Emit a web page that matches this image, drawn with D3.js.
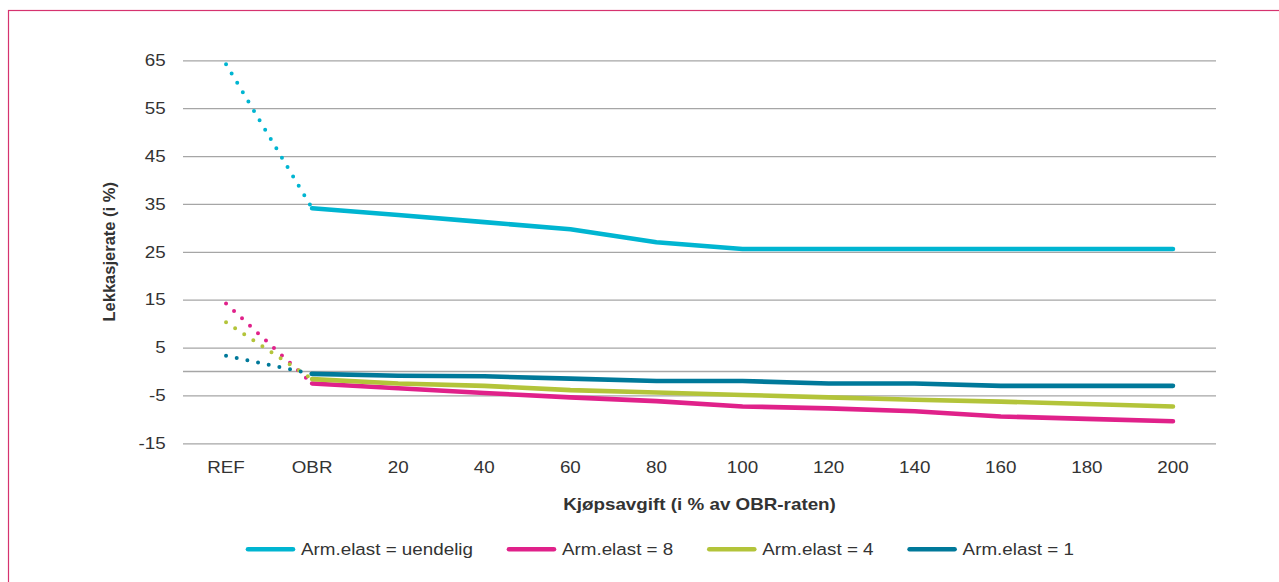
<!DOCTYPE html>
<html>
<head>
<meta charset="utf-8">
<script src="https://cdn.jsdelivr.net/npm/d3@7"></script>
<style>
  html, body { margin: 0; padding: 0; background: #fff; }
  svg { display: block; font-family: "Liberation Sans", Arial, sans-serif; }
</style>
</head>
<body>
<svg id="chart" width="1279" height="582"></svg>
<script>
// ---- data ----
const categories = ["REF", "OBR", "20", "40", "60", "80", "100", "120", "140", "160", "180", "200"];
const seriesNames = ["Arm.elast = uendelig", "Arm.elast = 8", "Arm.elast = 4", "Arm.elast = 1"];
const uendelig = [64.2, 34.1, 32.7, 31.2, 29.7, 27.0, 25.6, 25.6, 25.6, 25.6, 25.6, 25.6];
const elast8   = [14.2, -2.5, -3.5, -4.5, -5.4, -6.2, -7.3, -7.7, -8.3, -9.4, -9.9, -10.4];
const elast4   = [10.3, -1.6, -2.5, -3.0, -3.9, -4.4, -4.9, -5.4, -5.9, -6.3, -6.8, -7.3];
const elast1   = [3.3, -0.5, -0.9, -1.0, -1.5, -2.0, -2.0, -2.5, -2.5, -3.0, -3.0, -3.0];
const yTicks = [-15, -5, 5, 15, 25, 35, 45, 55, 65];
const yDomain = [-15, 65];
const xTitle = "Kjøpsavgift (i % av OBR-raten)";
const yTitle = "Lekkasjerate (i %)";

const colors = ["#00b5d1", "#e0218a", "#b3c43a", "#00799a"];
const seriesValues = [uendelig, elast8, elast4, elast1];

(function draw() {
// ---- layout ----
const svg = d3.select("#chart");
const pLeft = 183, pRight = 1216, pTop = 60.3, pBottom = 443.3;
const SX = 1.14;      // horizontal glyph stretch of the original picture
const FS = 16.5;
const textColor = "#333";

// outer frame
svg.append("rect")
  .attr("x", 8.5).attr("y", 10.5).attr("width", 1400).attr("height", 700)
  .attr("fill", "none").attr("stroke", "#d6336f").attr("stroke-width", 1.2);

const x = d3.scaleBand().domain(categories).range([pLeft, pRight]).padding(0);
const y = d3.scaleLinear().domain(yDomain).range([pBottom, pTop]);
const cx = c => x(c) + x.bandwidth() / 2;

// y axis with gridlines
const yAxis = svg.append("g")
  .attr("transform", `translate(${pLeft},0)`)
  .call(d3.axisLeft(y).tickValues(yTicks).tickFormat(d => String(d))
    .tickSize(-(pRight - pLeft)).tickPadding(15.2));
yAxis.select(".domain").remove();
yAxis.selectAll(".tick line").attr("stroke", "#a6a6a6").attr("stroke-width", 1.3);
yAxis.selectAll(".tick text")
  .attr("fill", textColor).attr("font-size", FS)
  .attr("font-family", "Liberation Sans, Arial, sans-serif")
  .attr("transform", `scale(${SX},1)`);

// zero (category axis) line
svg.append("line")
  .attr("x1", pLeft).attr("x2", pRight)
  .attr("y1", y(0)).attr("y2", y(0))
  .attr("stroke", "#a6a6a6").attr("stroke-width", 1.3);

// x axis labels (low position)
const xAxis = svg.append("g")
  .attr("transform", `translate(0,${pBottom})`)
  .call(d3.axisBottom(x).tickSize(0).tickPadding(18));
xAxis.select(".domain").remove();
xAxis.selectAll(".tick text")
  .attr("fill", textColor).attr("font-size", FS)
  .attr("font-family", "Liberation Sans, Arial, sans-serif")
  .attr("transform", `scale(${SX},1)`);

// axis titles
svg.append("g").attr("transform", `translate(${(pLeft + pRight) / 2},510)`)
  .append("text")
  .attr("text-anchor", "middle").attr("font-weight", "bold")
  .attr("font-size", FS).attr("fill", textColor)
  .attr("transform", `scale(${SX},1)`)
  .text(xTitle);

svg.append("text")
  .attr("transform", `translate(115,${(pTop + pBottom) / 2}) rotate(-90)`)
  .attr("text-anchor", "middle").attr("font-weight", "bold")
  .attr("font-size", 16.5).attr("fill", textColor)
  .text(yTitle);

// lines
const line = d3.line().x(d => cx(d.c)).y(d => y(d.v));
seriesValues.forEach((vals, i) => {
  const pts = vals.map((v, j) => ({ c: categories[j], v }));
  // dotted REF -> OBR
  svg.append("path")
    .datum(pts.slice(0, 2))
    .attr("d", line)
    .attr("fill", "none").attr("stroke", colors[i])
    .attr("stroke-width", 4).attr("stroke-linecap", "round")
    .attr("stroke-dasharray", "0 10.9");
  // solid OBR -> 200
  svg.append("path")
    .datum(pts.slice(1))
    .attr("d", line)
    .attr("fill", "none").attr("stroke", colors[i])
    .attr("stroke-width", 4.6).attr("stroke-linecap", "round")
    .attr("stroke-linejoin", "round");
});

// legend
const legend = svg.append("g").attr("transform", "translate(246,549.3)");
let lx = 0;
seriesNames.forEach((name, i) => {
  const g = legend.append("g").attr("transform", `translate(${lx},0)`);
  g.append("line")
    .attr("x1", 2).attr("x2", 47).attr("y1", 0).attr("y2", 0)
    .attr("stroke", colors[i]).attr("stroke-width", 4.6).attr("stroke-linecap", "round");
  const tg = g.append("g").attr("transform", "translate(55,0)");
  const t = tg.append("text")
    .attr("dy", "0.35em").attr("font-size", FS).attr("fill", textColor)
    .attr("transform", `scale(${SX},1)`)
    .text(name);
  const w = t.node().getComputedTextLength() * SX;
  lx += 55 + w + 34;
});
})();
</script>
</body>
</html>
